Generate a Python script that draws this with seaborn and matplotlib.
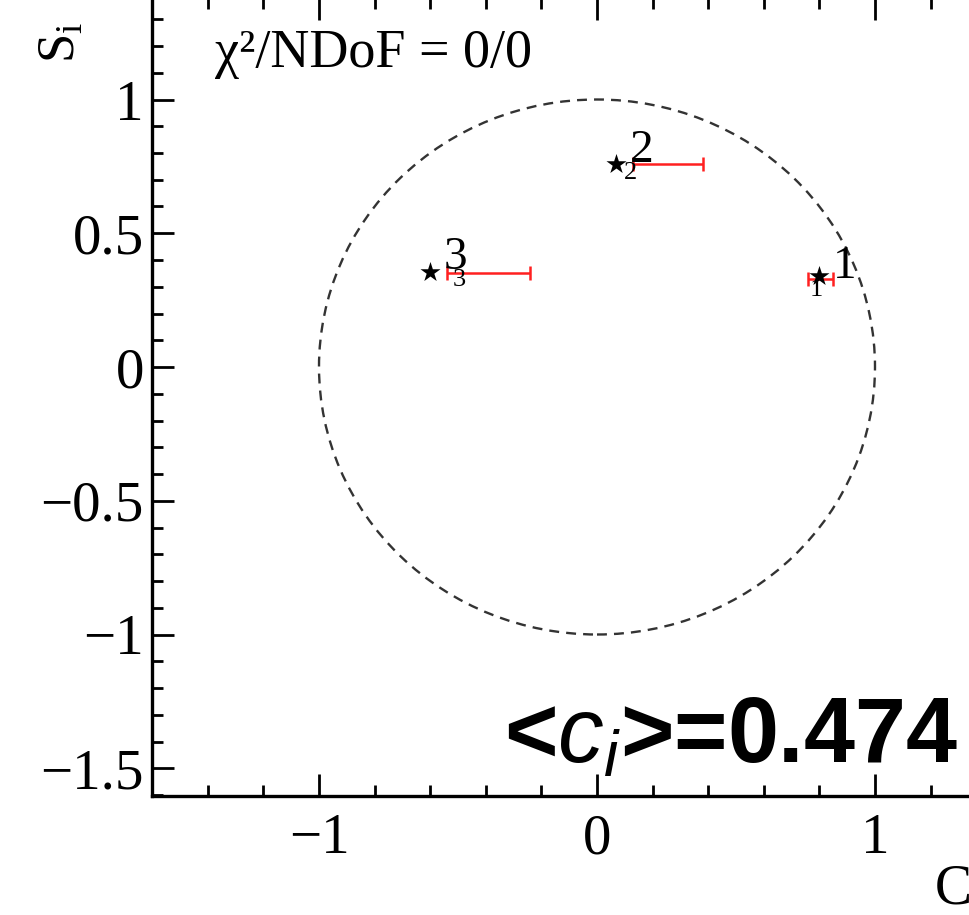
import numpy as np
import pandas as pd
import matplotlib
matplotlib.use("Agg")
import matplotlib.pyplot as plt
from matplotlib.patches import Circle
from matplotlib.ticker import MultipleLocator, FuncFormatter
import seaborn as sns

# ---------------- data ----------------
labels = ["1", "2", "3"]
c_star = [0.80, 0.07, -0.60]
s_star = [0.34, 0.76, 0.355]
c_bar_lo = [0.76, 0.13, -0.54]
c_bar_hi = [0.85, 0.38, -0.24]
s_bar = [0.33, 0.76, 0.35]
chi_text = "χ²/NDoF = 0/0"
mean_text = r"<$c_i$>=0.474"
x_ticks = [-1, 0, 1]
y_ticks = [-1.5, -1, -0.5, 0, 0.5, 1]

sns.set_theme(style="white")
plt.rcParams["font.family"] = ["Liberation Serif", "DejaVu Serif"]
plt.rcParams["mathtext.fontset"] = "custom"
plt.rcParams["mathtext.it"] = "Liberation Sans:italic"
plt.rcParams["mathtext.rm"] = "Liberation Serif"
plt.rcParams["axes.unicode_minus"] = True
plt.rcParams["text.color"] = "black"
plt.rcParams["xtick.color"] = "black"
plt.rcParams["ytick.color"] = "black"

W, H = 969, 915
fig = plt.figure(figsize=(W / 100, H / 100), dpi=100)

# pixel geometry
x0_px, px_per_x = 597.0, 278.0
y0_px, px_per_y = 367.0, 267.5
xmin, xmax = -1.6, 1.6
ymin, ymax = -1.605, 1.38
left_px = x0_px + xmin * px_per_x
bottom_px = y0_px - ymin * px_per_y
ax = fig.add_axes([left_px / W, (H - bottom_px) / H,
                   (xmax - xmin) * px_per_x / W,
                   (ymax - ymin) * px_per_y / H])
ax.set_xlim(xmin, xmax)
ax.set_ylim(ymin, ymax)

# unit circle
ax.add_patch(Circle((0, 0), 1.0, fill=False, ec="#333333", lw=1.7,
                    ls=(0, (4.2, 3.0)), zorder=1))

# red error bars
c_bar_lo_a = np.array(c_bar_lo)
c_bar_hi_a = np.array(c_bar_hi)
ctr = (c_bar_lo_a + c_bar_hi_a) / 2
half = (c_bar_hi_a - c_bar_lo_a) / 2
ax.errorbar(ctr, s_bar, xerr=half, fmt="none", ecolor="#ff2020",
            elinewidth=1.8, capsize=4.8, capthick=1.8, zorder=2)

# stars
df = pd.DataFrame({"C": c_star, "S": s_star, "lab": labels})
sns.scatterplot(data=df, x="C", y="S", marker="*", s=230, color="black",
                linewidth=0, ax=ax, zorder=3, legend=False)

# point labels (large and small subscript)
big_off = [(18, 7), (18, 9), (18, 10)]
small_off = [(-2, -10), (10, -7), (21, -6)]
for c, s, lab, bo, so in zip(c_star, s_star, labels, big_off, small_off):
    ax.annotate(lab, (c, s), xytext=bo, textcoords="offset points",
                ha="center", va="center", fontsize=34, color="black", zorder=4)
    ax.annotate(lab, (c, s), xytext=so, textcoords="offset points",
                ha="center", va="center", fontsize=19, color="black", zorder=4)

# texts
ax.text(-1.375, 1.17, chi_text, fontsize=39, ha="left", va="center",
        color="black", family=["Liberation Serif", "DejaVu Serif"])
ax.text(-0.335, -1.478, mean_text, fontsize=66, ha="left", va="baseline",
        color="black", family="Liberation Sans", fontweight="bold")

# axis labels at ends
fig.text(62 / W, 1 - 42 / H, r"S$_\mathrm{i}$", rotation=90, fontsize=38,
         ha="center", va="center", color="black")
fig.text(934 / W, 1 - 890 / H, r"C$_\mathrm{i}$", fontsize=40,
         ha="left", va="center", color="black")

# ticks / spines
ax.xaxis.set_major_locator(MultipleLocator(1))
ax.xaxis.set_minor_locator(MultipleLocator(0.2))
ax.yaxis.set_major_locator(MultipleLocator(0.5))
ax.yaxis.set_minor_locator(MultipleLocator(0.1))
fmt = FuncFormatter(lambda v, p: ("%g" % v).replace("-", "\u2212"))
ax.xaxis.set_major_formatter(fmt)
ax.yaxis.set_major_formatter(fmt)
ax.tick_params(which="both", direction="in", top=True, right=True,
               bottom=True, left=True,
               color="black", width=2.0, labelsize=41, labelcolor="black")
ax.tick_params(which="major", length=16)
ax.tick_params(which="minor", length=8)
ax.tick_params(axis="x", which="major", pad=12)
ax.tick_params(axis="y", which="major", pad=6)
for sp in ax.spines.values():
    sp.set_visible(True)
    sp.set_color("black")
    sp.set_linewidth(2.4)
ax.set_xlabel("")
ax.set_ylabel("")

fig.savefig("out.png", dpi=100)
